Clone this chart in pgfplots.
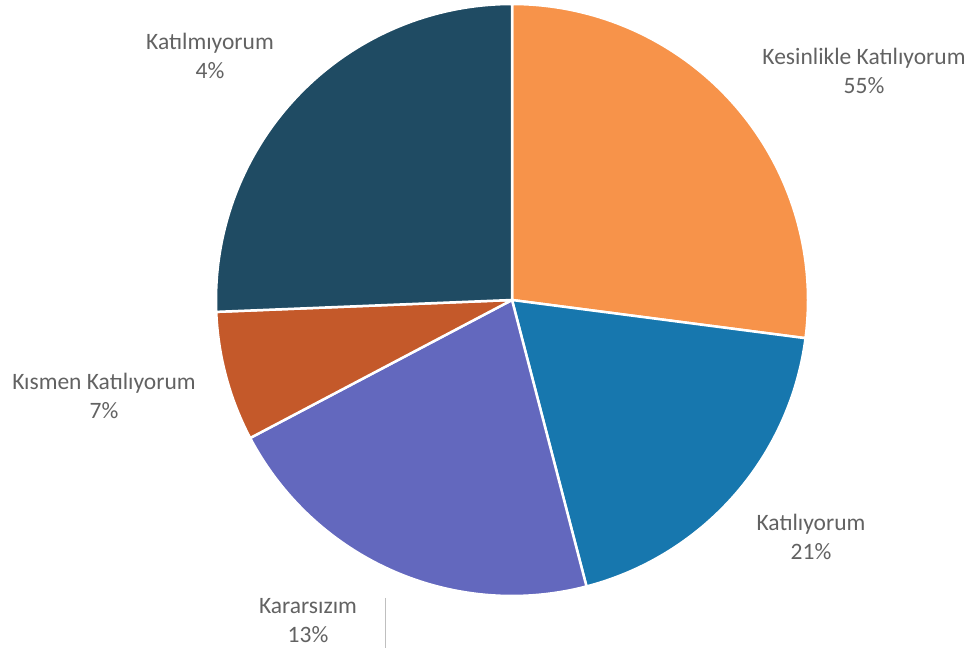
\documentclass[border=0pt]{standalone}
\usepackage{pgfplots}
\pgfplotsset{compat=1.18}
\usepackage{fontspec}
\setmainfont{Carlito}
\definecolor{cOrange}{HTML}{F7934A}
\definecolor{cBlue}{HTML}{1777AE}
\definecolor{cPurple}{HTML}{6368BE}
\definecolor{cRed}{HTML}{C4592A}
\definecolor{cDark}{HTML}{1F4B63}
\definecolor{cText}{HTML}{626262}
% slice shares of the drawn circle (percent), clockwise from 12 o'clock
\def\sA{27.06}\def\sB{18.89}\def\sC{21.33}\def\sD{7.08}\def\sE{25.64}
\pgfmathsetmacro\aO{90}
\pgfmathsetmacro\aA{\aO-3.6*\sA}
\pgfmathsetmacro\aB{\aA-3.6*\sB}
\pgfmathsetmacro\aC{\aB-3.6*\sC}
\pgfmathsetmacro\aD{\aC-3.6*\sD}
\pgfmathsetmacro\aE{\aD-3.6*\sE}
\def\cx{512}\def\cy{351}\def\R{296}
\tikzset{lbl/.style={font=\fontsize{23.5bp}{29bp}\selectfont, text=cText, align=center, inner sep=0pt}}
\begin{document}
\begin{tikzpicture}
\begin{axis}[
  hide axis, scale only axis,
  width=973bp, height=651bp,
  xmin=0, xmax=973, ymin=0, ymax=651,
  clip=false,
]
\addplot[draw=none, forget plot] coordinates {(0,0) (973,651)};
\addplot[fill=cOrange, draw=white, line width=2.5bp, line join=round, domain=\aA:\aO, samples=80, variable=\t]
  ({\cx+\R*cos(\t)},{\cy+\R*sin(\t)}) -- (axis cs:\cx,\cy) -- cycle;
\addplot[fill=cBlue, draw=white, line width=2.5bp, line join=round, domain=\aB:\aA, samples=60, variable=\t]
  ({\cx+\R*cos(\t)},{\cy+\R*sin(\t)}) -- (axis cs:\cx,\cy) -- cycle;
\addplot[fill=cPurple, draw=white, line width=2.5bp, line join=round, domain=\aC:\aB, samples=60, variable=\t]
  ({\cx+\R*cos(\t)},{\cy+\R*sin(\t)}) -- (axis cs:\cx,\cy) -- cycle;
\addplot[fill=cRed, draw=white, line width=2.5bp, line join=round, domain=\aD:\aC, samples=30, variable=\t]
  ({\cx+\R*cos(\t)},{\cy+\R*sin(\t)}) -- (axis cs:\cx,\cy) -- cycle;
\addplot[fill=cDark, draw=white, line width=2.5bp, line join=round, domain=\aE:\aD, samples=80, variable=\t]
  ({\cx+\R*cos(\t)},{\cy+\R*sin(\t)}) -- (axis cs:\cx,\cy) -- cycle;
\draw[gray!50, line width=0.8bp] (axis cs:385,53) -- (axis cs:385,3);
\node[lbl] at (axis cs:864,580) {Kesinlikle Katılıyorum\\55\%};
\node[lbl] at (axis cs:210,595) {Katılmıyorum\\4\%};
\node[lbl] at (axis cs:104,255) {Kısmen Katılıyorum\\7\%};
\node[lbl] at (axis cs:811,114) {Katılıyorum\\21\%};
\node[lbl] at (axis cs:308,30) {Kararsızım\\13\%};
\end{axis}
\end{tikzpicture}
\end{document}
